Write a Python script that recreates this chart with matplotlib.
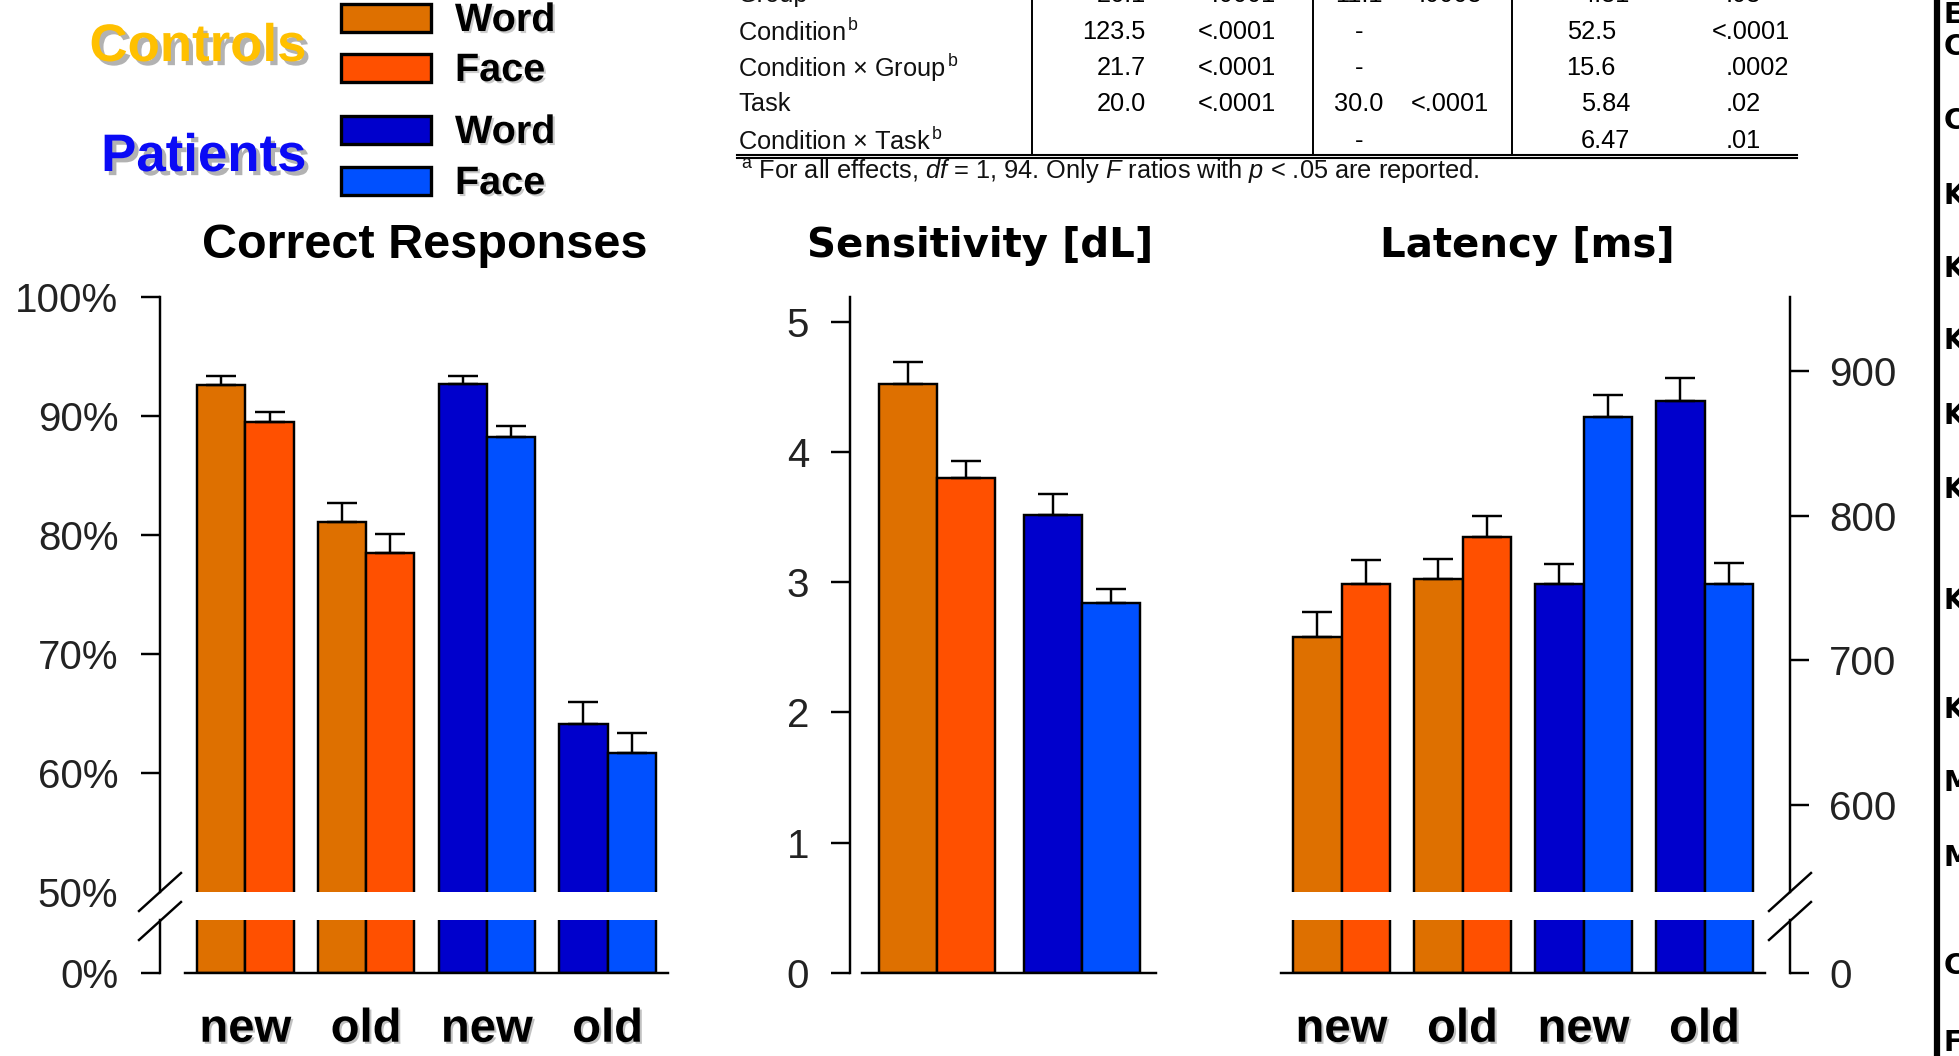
import matplotlib
matplotlib.use('Agg')
import matplotlib.pyplot as plt
import matplotlib.patheffects as pe
from matplotlib.patches import Rectangle
from matplotlib.lines import Line2D
import numpy as np

# ---------------- data ----------------
conditions = ['new', 'old', 'new', 'old']
groups = ['Controls', 'Controls', 'Patients', 'Patients']

correct_word = [92.6, 81.1, 92.7, 64.1]
correct_word_err = [0.75, 1.55, 0.65, 1.85]
correct_face = [89.5, 78.5, 88.2, 61.7]
correct_face_err = [0.8, 1.55, 0.95, 1.7]

sens_groups = ['Controls', 'Patients']
sens_word = [4.52, 3.52]
sens_word_err = [0.17, 0.16]
sens_face = [3.80, 2.84]
sens_face_err = [0.13, 0.11]

lat_word = [716, 756, 752.5, 879]
lat_word_err = [17.5, 14, 14, 16]
lat_face = [753, 785, 868, 752.5]
lat_face_err = [16.5, 14.5, 15.5, 14.5]

pct_ticks = [50, 60, 70, 80, 90, 100]
pct_labels = ['50%', '60%', '70%', '80%', '90%', '100%']
sens_ticks = [0, 1, 2, 3, 4, 5]
lat_ticks = [600, 700, 800, 900]

word_colors = ['#DE7000', '#DE7000', '#0000CC', '#0000CC']
face_colors = ['#FF5000', '#FF5000', '#0050FF', '#0050FF']

table_effects = ['Group', 'Condition', 'Condition \u00d7 Group', 'Task', 'Condition \u00d7 Task']
table_sup = ['', 'b', 'b', '', 'b']
table_F1 = ['26.1', '123.5', '21.7', '20.0', '']
table_p1 = ['<.0001', '<.0001', '<.0001', '<.0001', '']
table_F2 = ['11.1', '-', '-', '30.0', '-']
table_p2 = ['.0008', '', '', '<.0001', '']
table_F3 = ['4.81', '52.5', '15.6', '5.84', '6.47']
table_p3 = ['.03', '<.0001', '.0002', '.02', '.01']

side_letters = ['E', 'C', 'C', 'K', 'K', 'K', 'K', 'K', 'K', 'K', 'M', 'M', 'C', 'F']

# ---------------- fonts ----------------
TFONT = 'Liberation Sans'
plt.rcParams['font.family'] = ['Liberation Sans', 'DejaVu Sans']
plt.rcParams['mathtext.fontset'] = 'custom'
plt.rcParams['mathtext.rm'] = TFONT
plt.rcParams['mathtext.it'] = TFONT + ':italic'

W, H = 1959, 1056
fig = plt.figure(figsize=(W / 100, H / 100), dpi=100)
fig.patch.set_facecolor('white')


def fx(x):
    return x / W


def fy(y):
    return 1 - y / H


def ax_px(x0, y0, x1, y1):
    a = fig.add_axes([x0 / W, 1 - y1 / H, (x1 - x0) / W, (y1 - y0) / H])
    a.set_facecolor('none')
    for s in a.spines.values():
        s.set_visible(False)
    return a


TICK_COLOR = '#222222'
TICK_SIZE = 29
LW = 1.75


def style_y(a, side, offset_pt, ticks, labels, pad):
    a.spines[side].set_visible(True)
    a.spines[side].set_linewidth(LW)
    a.spines[side].set_position(('outward', offset_pt))
    a.set_yticks(ticks)
    a.set_yticklabels(labels)
    if side == 'right':
        a.yaxis.tick_right()
    a.tick_params(axis='y', length=14, width=LW, pad=pad, labelsize=TICK_SIZE,
                  labelcolor=TICK_COLOR)
    a.set_xticks([])


def draw_bars(a, x, word, face, wcol, fcol, werr=None, ferr=None, w=0.4):
    x = np.asarray(x, dtype=float)
    a.bar(x - w / 2, word, width=w, color=wcol, edgecolor='black', linewidth=LW, zorder=2)
    a.bar(x + w / 2, face, width=w, color=fcol, edgecolor='black', linewidth=LW, zorder=2)
    if werr is not None:
        a.errorbar(x - w / 2, word, yerr=[np.zeros(len(word)), werr], fmt='none',
                   ecolor='black', elinewidth=LW, capsize=11, capthick=LW, zorder=3)
        a.errorbar(x + w / 2, face, yerr=[np.zeros(len(face)), ferr], fmt='none',
                   ecolor='black', elinewidth=LW, capsize=11, capthick=LW, zorder=3)


def xlabels(a, labels):
    a.set_xticks(np.arange(len(labels)))
    a.set_xticklabels(labels, fontsize=34, fontweight='bold')
    a.tick_params(axis='x', length=0, pad=25)
    for t in a.get_xticklabels():
        t.set_path_effects([pe.withSimplePatchShadow(offset=(1.5, -1.5), shadow_rgbFace='#999999', alpha=0.6)])


def slash(xc, yc):
    fig.add_artist(Line2D([fx(xc - 21), fx(xc + 21)], [fy(yc + 19), fy(yc - 19)],
                          transform=fig.transFigure, color='black', lw=LW))


xg = np.arange(4)

# ---------------- Panel 1: Correct responses ----------------
a1 = ax_px(185, 297, 668, 892)
draw_bars(a1, xg, correct_word, correct_face, word_colors, face_colors,
          correct_word_err, correct_face_err)
a1.set_xlim(-0.5, 3.5)
a1.set_ylim(50, 100)
style_y(a1, 'left', 18, pct_ticks, pct_labels, 16)
a1.spines['left'].set_bounds(50, 100)
a1.yaxis.get_major_ticks()[0].tick1line.set_visible(False)

a1b = ax_px(185, 920, 668, 973)
draw_bars(a1b, xg, correct_word, correct_face, word_colors, face_colors)
a1b.set_xlim(-0.5, 3.5)
a1b.set_ylim(0, 10)
style_y(a1b, 'left', 18, [0], ['0%'], 16)
a1b.spines['bottom'].set_visible(True)
a1b.spines['bottom'].set_linewidth(LW)
xlabels(a1b, conditions)
slash(160, 892)
slash(160, 921)

# ---------------- Panel 2: Sensitivity ----------------
a2 = ax_px(862, 297, 1156, 973)
draw_bars(a2, np.arange(2), sens_word, sens_face, [word_colors[0], word_colors[2]],
          [face_colors[0], face_colors[2]], sens_word_err, sens_face_err)
a2.set_xlim(-0.515, 1.51)
a2.set_ylim(0, 5.19)
style_y(a2, 'left', 9, sens_ticks, [str(t) for t in sens_ticks], 15)
a2.spines['bottom'].set_visible(True)
a2.spines['bottom'].set_linewidth(LW)

# ---------------- Panel 3: Latency ----------------
a3 = ax_px(1281, 297, 1765, 892)
draw_bars(a3, xg, lat_word, lat_face, word_colors, face_colors, lat_word_err, lat_face_err)
a3.set_xlim(-0.5, 3.5)
a3.set_ylim(540, 951)
style_y(a3, 'right', 18, lat_ticks, [str(t) for t in lat_ticks], 14)

a3b = ax_px(1281, 920, 1765, 973)
draw_bars(a3b, xg, lat_word, lat_face, word_colors, face_colors)
a3b.set_xlim(-0.5, 3.5)
a3b.set_ylim(0, 10)
style_y(a3b, 'right', 18, [0], ['0'], 14)
a3b.spines['bottom'].set_visible(True)
a3b.spines['bottom'].set_linewidth(LW)
xlabels(a3b, conditions)
slash(1790, 892)
slash(1790, 921)

# ---------------- titles ----------------
fig.text(fx(425), fy(246), 'Correct Responses', ha='center', va='center',
         fontsize=35, fontweight='bold', family='Liberation Sans')
fig.text(fx(980), fy(246), 'Sensitivity [dL]', ha='center', va='center',
         fontsize=29, fontweight='bold', family='DejaVu Sans')
fig.text(fx(1527), fy(246), 'Latency [ms]', ha='center', va='center',
         fontsize=29, fontweight='bold', family='DejaVu Sans')

# ---------------- legend ----------------
shadow = [pe.withSimplePatchShadow(offset=(3, -3), shadow_rgbFace='#808080', alpha=0.6)]
fig.text(fx(306), fy(47), 'Controls', ha='right', va='center', fontsize=38,
         fontweight='bold', color='#FFC000', path_effects=shadow)
fig.text(fx(306), fy(157), 'Patients', ha='right', va='center', fontsize=38,
         fontweight='bold', color='#0A0AF5', path_effects=shadow)
leg_labels = ['Word', 'Face', 'Word', 'Face']
leg_colors = [word_colors[0], face_colors[0], word_colors[2], face_colors[2]]
leg_y = [18, 68, 130, 181]
for lab, col, yc in zip(leg_labels, leg_colors, leg_y):
    fig.add_artist(Rectangle((fx(341), fy(yc + 14)), (431 - 341) / W, 28 / H,
                             transform=fig.transFigure, facecolor=col,
                             edgecolor='black', linewidth=2.4))
    fig.text(fx(455), fy(yc + 2), lab, ha='left', va='center', fontsize=28.5,
             fontweight='bold', color='black',
             path_effects=[pe.withSimplePatchShadow(offset=(1.5, -1.5), shadow_rgbFace='#999999', alpha=0.5)])

# ---------------- table ----------------
row_y = [-5, 32, 68, 104, 141]
tfs = 18.3
for i, y in enumerate(row_y):
    lab = table_effects[i] + (r'$^{\,\mathrm{%s}}$' % table_sup[i] if table_sup[i] else '')
    fig.text(fx(738), fy(y), lab, ha='left', va='center', fontsize=tfs, family=TFONT, color='#111111')
    fig.text(fx(1146), fy(y), table_F1[i], ha='right', va='center', fontsize=tfs, family=TFONT)
    fig.text(fx(1276), fy(y), table_p1[i], ha='right', va='center', fontsize=tfs, family=TFONT)
    fig.text(fx(1359), fy(y), table_F2[i], ha='center', va='center', fontsize=tfs, family=TFONT)
    fig.text(fx(1450), fy(y), table_p2[i], ha='center', va='center', fontsize=tfs, family=TFONT)
    fx3 = 1616 + (14 if len(table_F3[i].split('.')[0]) == 1 else 0)
    fig.text(fx(fx3), fy(y), table_F3[i], ha='right', va='center', fontsize=tfs, family=TFONT)
    px = 1726 - (14 if table_p3[i].startswith('<') else 0)
    fig.text(fx(px), fy(y), table_p3[i], ha='left', va='center', fontsize=tfs, family=TFONT)

for xv in [1032, 1313, 1512]:
    fig.add_artist(Line2D([fx(xv), fx(xv)], [fy(0), fy(155)], transform=fig.transFigure,
                          color='black', lw=1.4))
fig.add_artist(Line2D([fx(737), fx(1797)], [fy(155), fy(155)], transform=fig.transFigure,
                      color='black', lw=1.5))
fig.add_artist(Line2D([fx(737), fx(1797)], [fy(158), fy(158)], transform=fig.transFigure,
                      color='black', lw=1.5))
fig.text(fx(741), fy(172),
         r'$^{\mathrm{a}}$ For all effects, $df$ = 1, 94. Only $F$ ratios with $p$ < .05 are reported.',
         ha='left', va='center', fontsize=tfs, family=TFONT, color='#111111')

# ---------------- right edge ----------------
fig.add_artist(Line2D([fx(1937), fx(1937)], [0, 1], transform=fig.transFigure,
                      color='black', lw=4.5))
side_y = [15, 47, 121, 196, 269, 341, 416, 490, 601, 710, 783, 858, 966, 1043]
for ch, y in zip(side_letters, side_y):
    fig.text(fx(1944), fy(y), ch, ha='left', va='center', fontsize=20,
             fontweight='bold', family='DejaVu Sans')

fig.savefig('out.png', dpi=100)
